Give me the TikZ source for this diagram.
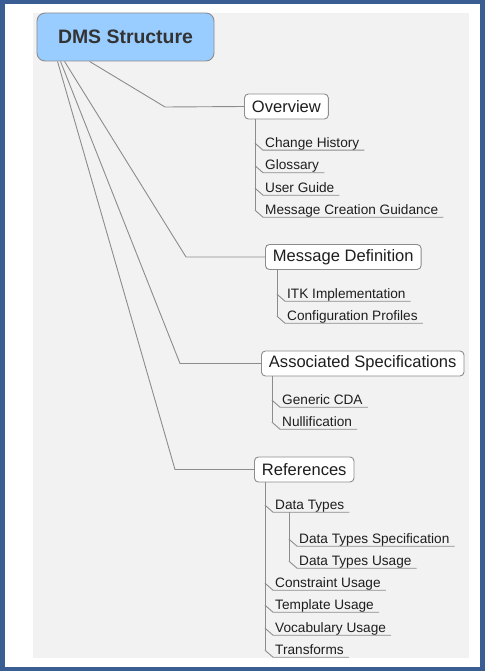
\documentclass[tikz,border=0pt]{standalone}
\usepackage{fontspec}
\setmainfont{Liberation Sans}
\definecolor{frameblue}{RGB}{58,94,148}
\definecolor{panelgray}{RGB}{242,242,242}
\definecolor{rootblue}{RGB}{153,204,255}
\definecolor{linegray}{RGB}{140,140,140}
\definecolor{txt}{RGB}{30,30,30}
\begin{document}
\begin{tikzpicture}[x=1bp,y=-1bp,
  conn/.style={draw=linegray,line width=0.9bp},
  rootbox/.style={draw=linegray,fill=rootblue,rounded corners=8bp,line width=0.9bp,
    minimum width=177bp,minimum height=48bp,text=black!80,
    font=\fontsize{19.5}{22}\selectfont\bfseries},
  branchbox/.style={draw=linegray,fill=white,rounded corners=4bp,line width=0.9bp,
    anchor=west,inner xsep=7.5bp,inner ysep=0pt,minimum height=25bp,text=txt,
    font=\fontsize{16.6}{18}\selectfont},
  leaf/.style={anchor=base west,inner xsep=2bp,inner ysep=0pt,text depth=3bp,text=txt,
    font=\fontsize{13.7}{15}\selectfont}
]
\useasboundingbox (0,0) rectangle (488,671);
\fill[white] (0,0) rectangle (488,671);
\fill[panelgray] (33,13) rectangle (469,658);
\draw[frameblue,line width=4.4bp] (2.5,2.2) rectangle (482.5,668.9);

% root
\node[rootbox] (root) at (125.5,37) {DMS Structure};

% branches
\node[branchbox] (ov) at (244,106.5) {Overview};
\node[branchbox] (md) at (265,257) {Message Definition};
\node[branchbox] (as) at (261,363.5) {Associated Specifications};
\node[branchbox] (rf) at (254,469.5) {References};

\draw[conn] ([xshift=53bp]root.south west) -- (165,107) -- (ov.west);
\draw[conn] ([xshift=28bp]root.south west) -- (186,257) -- (md.west);
\draw[conn] ([xshift=24bp]root.south west) -- (180,363.5) -- (as.west);
\draw[conn] ([xshift=21bp]root.south west) -- (175,469.5) -- (rf.west);

% Overview children
\node[leaf] (ov1) at (263,147) {Change History};
\node[leaf] (ov2) at (263,169.5) {Glossary};
\node[leaf] (ov3) at (263,192) {User Guide};
\node[leaf] (ov4) at (263,214) {Message Creation Guidance};
\coordinate (ovx) at ([xshift=11bp]ov.south west);
\draw[conn] (ovx) -- ([yshift=7bp]ov4.south west -| ovx);
\foreach \c in {ov1,ov2,ov3,ov4}
  \draw[conn] ([yshift=7bp]\c.south west -| ovx) -- (\c.south west) -- ([xshift=3bp]\c.south east);

% Message Definition children
\node[leaf] (md1) at (285,298) {ITK Implementation};
\node[leaf] (md2) at (285,320) {Configuration Profiles};
\coordinate (mdx) at ([xshift=12bp]md.south west);
\draw[conn] (mdx) -- ([yshift=7bp]md2.south west -| mdx);
\foreach \c in {md1,md2}
  \draw[conn] ([yshift=7bp]\c.south west -| mdx) -- (\c.south west) -- ([xshift=3bp]\c.south east);

% Associated Specifications children
\node[leaf] (as1) at (280,404) {Generic CDA};
\node[leaf] (as2) at (280,426) {Nullification};
\coordinate (asx) at ([xshift=11bp]as.south west);
\draw[conn] (asx) -- ([yshift=7bp]as2.south west -| asx);
\foreach \c in {as1,as2}
  \draw[conn] ([yshift=7bp]\c.south west -| asx) -- (\c.south west) -- ([xshift=3bp]\c.south east);

% References children
\node[leaf] (rf1) at (273,509) {Data Types};
\node[leaf] (dt1) at (297,543) {Data Types Specification};
\node[leaf] (dt2) at (297,565) {Data Types Usage};
\node[leaf] (rf2) at (273,587) {Constraint Usage};
\node[leaf] (rf3) at (273,609) {Template Usage};
\node[leaf] (rf4) at (273,632) {Vocabulary Usage};
\node[leaf] (rf5) at (273,654) {Transforms};
\coordinate (rfx) at ([xshift=11bp]rf.south west);
\draw[conn] (rfx) -- ([yshift=7bp]rf5.south west -| rfx);
\foreach \c in {rf1,rf2,rf3,rf4,rf5}
  \draw[conn] ([yshift=7bp]\c.south west -| rfx) -- (\c.south west) -- ([xshift=3bp]\c.south east);
\coordinate (dtx) at ([xshift=16bp]rf1.south west);
\draw[conn] (dtx) -- ([yshift=7bp]dt2.south west -| dtx);
\foreach \c in {dt1,dt2}
  \draw[conn] ([yshift=7bp]\c.south west -| dtx) -- (\c.south west) -- ([xshift=3bp]\c.south east);
\end{tikzpicture}
\end{document}
